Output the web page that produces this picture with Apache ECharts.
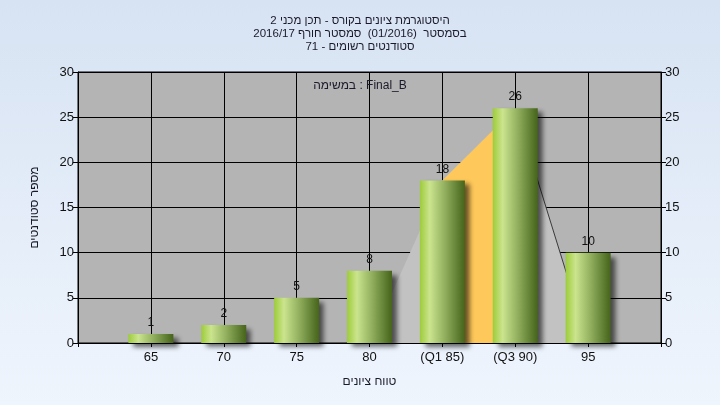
<!DOCTYPE html>
<html>
<head>
<meta charset="utf-8">
<script src="https://cdn.jsdelivr.net/npm/echarts@6/dist/echarts.min.js"></script>
<style>
html,body{margin:0;padding:0;}
body{width:720px;height:405px;background:linear-gradient(to bottom,#d7e3f3,#eff5fd);}
#c{width:720px;height:405px;}
</style>
</head>
<body>
<div id="c"></div>
<script>
var categories = ['', '65', '70', '75', '80', '(Q1 85)', '(Q3 90)', '95', ''];
var counts = [null, 1, 2, 5, 8, 18, 26, 10, null];
var curveValues = [null, null, null, null, 0, 18, 26, 0, null];
var quartileValues = [null, null, null, null, null, 18, 26, null, null];
var tailLine = [null, null, null, null, null, null, 26, 0, null];
var yTicks = [0, 5, 10, 15, 20, 25, 30];
var titleLines = ['היסטוגרמת ציונים בקורס - תכן מכני 2', 'בסמסטר  (01/2016)  סמסטר חורף 2016/17', 'סטודנטים רשומים - 71'];
var taskLabel = 'במשימה : Final_B';
var xName = 'טווח ציונים';
var yName = 'מספר סטודנטים';

var FONT = '"Liberation Sans", "DejaVu Sans", sans-serif';
var chart = echarts.init(document.getElementById('c'), null, {renderer: 'canvas'});
var yAxisCommon = {
  type: 'value', min: yTicks[0], max: yTicks[yTicks.length - 1], interval: 5,
  axisLine: {show: true, lineStyle: {color: '#000', width: 1}},
  axisTick: {show: true, length: 5, lineStyle: {color: '#000'}},
  axisLabel: {color: '#111', fontSize: 13, fontFamily: FONT, margin: 4}
};
chart.setOption({
  animation: false,
  backgroundColor: 'transparent',
  title: {
    text: titleLines.join('\n'),
    left: 'center', top: 9,
    textStyle: {fontSize: 11.5, fontWeight: 'normal', color: '#1a1a2a', fontFamily: FONT, lineHeight: 13}
  },
  graphic: [{
    type: 'text', left: 'center', top: 80, z: 100,
    style: {text: taskLabel, fontSize: 12, fill: '#1a1a2a', fontFamily: FONT}
  }],
  grid: {left: 78, right: 59, top: 72, bottom: 62, show: true, backgroundColor: '#b4b4b4', borderColor: '#000', borderWidth: 1},
  xAxis: {
    type: 'category', data: categories, boundaryGap: false,
    name: xName, nameLocation: 'middle', nameGap: 33,
    nameTextStyle: {fontSize: 12, color: '#1a1a2a', fontFamily: FONT},
    axisLine: {show: true, lineStyle: {color: '#000'}},
    axisTick: {show: true, interval: 0, length: 4, lineStyle: {color: '#000'}},
    axisLabel: {interval: 0, color: '#111', fontSize: 13, fontFamily: FONT, margin: 8},
    splitLine: {show: true, interval: 0, lineStyle: {color: '#000', width: 1}}
  },
  yAxis: [
    Object.assign({}, yAxisCommon, {
      position: 'left',
      name: yName, nameLocation: 'middle', nameGap: 37,
      nameTextStyle: {fontSize: 12, color: '#1a1a2a', fontFamily: FONT},
      splitLine: {show: true, lineStyle: {color: '#000', width: 1}}
    }),
    Object.assign({}, yAxisCommon, {
      position: 'right',
      splitLine: {show: false}
    })
  ],
  series: [
    {type: 'line', data: curveValues, symbol: 'none', silent: true,
     lineStyle: {width: 0}, areaStyle: {color: '#c2c2c2', opacity: 1}, z: 1},
    {type: 'line', data: quartileValues, symbol: 'none', silent: true,
     lineStyle: {width: 0}, areaStyle: {color: '#ffc85a', opacity: 1}, z: 1},
    {type: 'line', data: tailLine, symbol: 'none', silent: true,
     lineStyle: {width: 1, color: '#3a3a3a'}, z: 1},
    {type: 'bar', data: counts, barWidth: 45, z: 3,
     itemStyle: {
       color: new echarts.graphic.LinearGradient(0, 0, 1, 0, [
         {offset: 0, color: '#9dcc3a'},
         {offset: 0.22, color: '#cbe48e'},
         {offset: 0.5, color: '#9ab866'},
         {offset: 1, color: '#46641a'}
       ]),
       shadowColor: 'rgba(0,0,0,0.6)', shadowBlur: 5, shadowOffsetX: 5, shadowOffsetY: 4
     },
     label: {show: true, position: 'top', distance: 5, color: '#111', fontSize: 12, fontFamily: FONT}
    }
  ]
});
</script>
</body>
</html>
